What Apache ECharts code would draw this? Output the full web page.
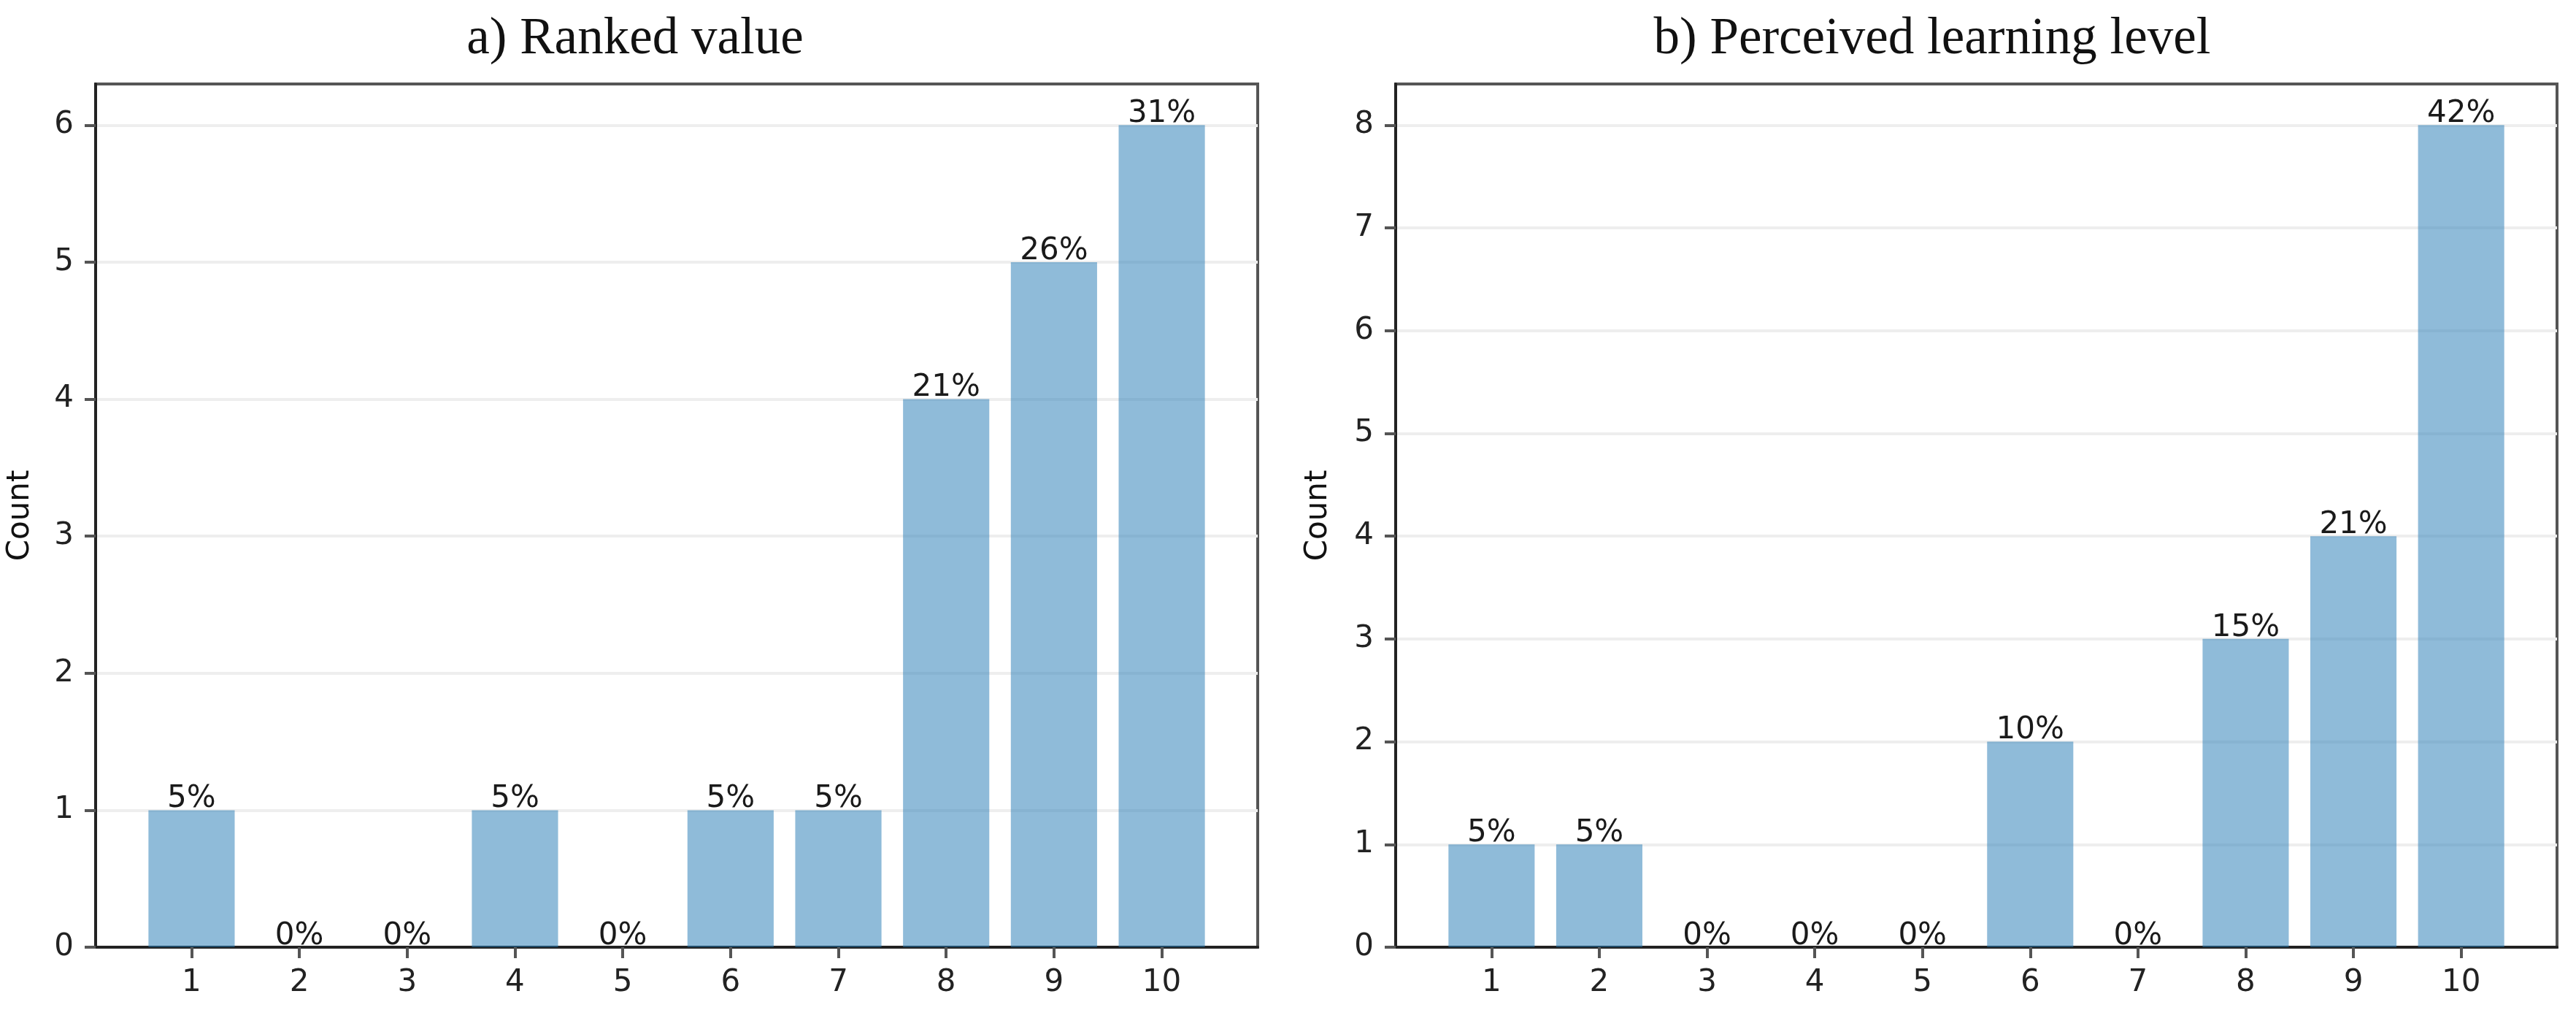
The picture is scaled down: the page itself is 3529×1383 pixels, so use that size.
<!DOCTYPE html>
<html>
<head>
<meta charset="utf-8">
<script src="https://cdn.jsdelivr.net/npm/echarts@6/dist/echarts.min.js"></script>
<style>
html,body{margin:0;padding:0;background:#fff;}
#main{width:3529px;height:1383px;}
</style>
</head>
<body>
<div id="main"></div>
<script>
// ---- data ----
const categories = [1, 2, 3, 4, 5, 6, 7, 8, 9, 10];
const rankedCounts = [1, 0, 0, 1, 0, 1, 1, 4, 5, 6];
const rankedLabels = ['5%', '0%', '0%', '5%', '0%', '5%', '5%', '21%', '26%', '31%'];
const learningCounts = [1, 1, 0, 0, 0, 2, 0, 3, 4, 8];
const learningLabels = ['5%', '5%', '0%', '0%', '0%', '10%', '0%', '15%', '21%', '42%'];
const rankedTicks = [0, 1, 2, 3, 4, 5, 6];
const learningTicks = [0, 1, 2, 3, 4, 5, 6, 7, 8];
const titles = ['a) Ranked value', 'b) Perceived learning level'];

// ---- chart ----
const chart = echarts.init(document.getElementById('main'), null, {renderer: 'canvas'});
const tickFont = {fontFamily: 'DejaVu Sans', fontSize: 42, color: '#222'};

function mkX(gridIndex) {
  return {
    type: 'value', gridIndex: gridIndex, min: 0.11, max: 10.89,
    axisLine: {show: true, onZero: false, lineStyle: {color: '#222', width: 4}},
    axisTick: {show: true, length: 15, lineStyle: {color: '#555', width: 4}, customValues: categories},
    axisLabel: Object.assign({margin: 28, customValues: categories}, tickFont),
    splitLine: {show: false}
  };
}
function mkY(gridIndex, max, ticks, gap) {
  return {
    type: 'value', gridIndex: gridIndex, min: 0, max: max, interval: 1,
    name: 'Count', nameLocation: 'middle', nameRotate: 90, nameGap: gap,
    nameTextStyle: {fontFamily: 'DejaVu Sans', fontSize: 42, color: '#111'},
    axisLine: {show: true, lineStyle: {color: '#222', width: 4}},
    axisTick: {show: true, length: 15, lineStyle: {color: '#555', width: 4}, customValues: ticks},
    axisLabel: Object.assign({margin: 30, customValues: ticks}, tickFont),
    splitLine: {show: true, lineStyle: {color: '#eeeeee', width: 4}}
  };
}
function mkSeries(idx, counts, labels) {
  return {
    type: 'bar', xAxisIndex: idx, yAxisIndex: idx,
    data: categories.map((c, i) => [c, counts[i]]),
    barWidth: '80%',
    itemStyle: {color: 'rgba(31,119,180,0.5)'},
    label: {
      show: true, position: 'top', distance: -6,
      fontFamily: 'DejaVu Sans', fontSize: 42, color: '#1a1a1a',
      formatter: p => labels[p.dataIndex]
    },
    z: 3
  };
}

chart.setOption({
  backgroundColor: '#fff',
  animation: false,
  title: [
    {text: titles[0], left: 865, top: 14, textAlign: 'center',
     textStyle: {fontFamily: 'Liberation Serif', fontSize: 71, fontWeight: 'normal', color: '#111'}},
    {text: titles[1], left: 2642, top: 14, textAlign: 'center',
     textStyle: {fontFamily: 'Liberation Serif', fontSize: 71, fontWeight: 'normal', color: '#111'}}
  ],
  grid: [
    {left: 131, right: 1806, top: 115, bottom: 86, show: true, borderColor: '#555', borderWidth: 4, containLabel: false},
    {left: 1912, right: 26, top: 115, bottom: 86, show: true, borderColor: '#555', borderWidth: 4, containLabel: false}
  ],
  xAxis: [mkX(0), mkX(1)],
  yAxis: [mkY(0, 6.3, rankedTicks, 82), mkY(1, 8.4, learningTicks, 85)],
  series: [mkSeries(0, rankedCounts, rankedLabels), mkSeries(1, learningCounts, learningLabels)]
});
</script>
</body>
</html>
